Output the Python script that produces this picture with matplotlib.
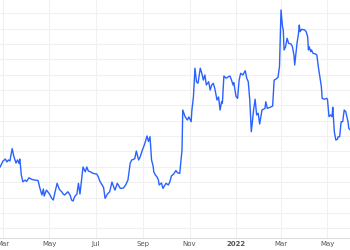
import numpy as np
import matplotlib
matplotlib.use('Agg')
from matplotlib import pyplot as plt
import matplotlib.dates as mdates

# days since 2021-02-25
start = np.datetime64('2021-02-25')
days = [0, 4, 7, 9, 11, 13, 16, 18, 21, 23, 25, 26, 28, 30, 33, 35, 38, 42, 46, 50,
        52, 55, 57, 58, 61, 65, 68, 70, 72, 75, 78,
        81, 83, 85, 89, 92, 94, 96, 98, 101, 103, 105, 107, 109, 112, 114, 116, 119, 122,
        127, 129, 131, 136, 138, 139, 141, 144, 147, 150,
        151, 154, 158, 162, 165, 168, 171, 173, 175, 177, 179, 182, 184, 187, 190, 193,
        195, 197, 199, 201, 202, 204, 206, 208, 209, 212, 214, 218, 221, 223, 225, 228,
        231, 233, 236,
        239, 240, 243, 246, 248, 251, 252, 254, 256, 258, 260, 263, 265, 267, 269, 271,
        274, 276, 278, 280, 282, 285, 287, 289, 291, 292, 294,
        297, 300, 302, 304, 306, 307, 310, 312, 314, 316, 319, 322, 324, 326, 328, 330,
        333, 335, 337, 339, 341, 344, 346, 348, 349, 351, 355, 358, 360, 362, 365,
        367, 369, 371, 372, 373, 375, 377, 379, 382, 384, 386, 387, 390, 392, 393, 394,
        396, 400, 402, 404, 405, 406, 408, 409, 411, 414, 416, 418, 420, 422, 423, 426,
        429, 430, 432, 434, 436, 437, 439, 441, 443, 444, 446, 448, 450, 452, 454, 457,
        458, 460]
values = [39.9, 43.8, 45.1, 43.2, 44.5, 43.8, 51.9, 47.1, 42.5, 44.5, 42.2, 45.1, 34.7,
          30.3, 31.4, 30.5, 32.9, 31.8, 31.4, 31.1,
          26.9, 21.7, 25.6, 21.0, 24.9, 22.3, 19.5, 18.4, 23.0, 29.3, 25.3,
          23.8, 22.3, 21.7, 23.8, 21.7, 18.4, 17.8, 20.6, 22.3, 29.3, 22.3, 30.8, 39.9,
          36.8, 39.9, 37.3, 36.7, 35.8, 35.3, 33.6, 30.8, 26.6, 19.5, 20.4, 22.3, 23.8,
          30.1, 26.0,
          24.9, 29.3, 26.0, 26.2, 28.2, 31.4, 42.5, 44.5, 44.8, 45.4, 50.3, 44.5, 46.4,
          51.0, 54.9, 60.1, 56.5, 59.6, 44.5, 40.6, 36.7, 34.7, 33.6, 31.4, 28.2, 29.5,
          26.0, 29.3, 28.2, 30.1, 34.0, 35.3, 37.6, 36.2, 35.7,
          51.0, 77.0, 72.7, 70.5, 72.5, 69.4, 77.0, 85.5, 104.2, 95.4, 94.4, 104.2, 100.9,
          96.5, 99.8, 93.3, 95.4, 90.0, 93.3, 94.4, 91.1, 83.5, 85.5, 77.0, 82.4, 81.4,
          99.1,
          97.7, 98.7, 99.1, 96.5, 93.3, 94.8, 85.7, 84.6, 96.5, 100.9, 99.8, 102.6, 97.7,
          95.4, 83.5, 62.9, 77.0, 84.0, 73.8, 74.9, 67.9, 77.0, 77.5, 78.1, 82.4, 78.1,
          78.8, 79.6, 96.5, 97.0, 98.2,
          105.2, 142.1, 131.2, 129.1, 116.1, 118.2, 123.7, 120.4, 120.0, 118.2, 112.8,
          106.3, 120.4, 126.9, 132.3, 128.0, 129.5, 129.1, 128.0, 124.7, 116.1, 118.2,
          115.0, 116.1, 113.9, 113.5, 112.8, 105.2, 98.7, 92.2, 84.6, 84.0, 84.6, 84.0,
          72.7, 73.8, 72.7, 78.8, 62.9, 57.5, 57.9, 59.6, 59.6, 69.4, 69.4, 77.0, 75.9,
          69.4, 65.1, 64.0]

tick_dates = ['2021-03-01', '2021-05-01', '2021-07-01', '2021-09-01', '2021-11-01',
              '2022-01-01', '2022-03-01', '2022-05-01']
tick_labels = ['Mar', 'May', 'Jul', 'Sep', 'Nov', '2022', 'Mar', 'May']

dates = start + np.array(days, dtype='timedelta64[D]')

fig = plt.figure(figsize=(3.5, 2.5), dpi=100)
ax = fig.add_axes([0, 12 / 250, 1, 238 / 250])

ax.plot(dates, values, color='#2962ff', linewidth=1.0)

x0 = mdates.date2num(start)
ax.set_xlim(x0, x0 + 459.6)
ax.set_ylim(-6.3, 148.6)

ax.set_yticks(np.arange(0, 150, 10))
ax.set_xticks([mdates.date2num(np.datetime64(d)) for d in tick_dates])
ax.set_xticklabels(tick_labels)
for lab in ax.get_xticklabels():
    if lab.get_text() == '2022':
        lab.set_fontweight('bold')
        lab.set_color('#222222')

ax.grid(True, color='#f0f0f0', linewidth=0.8)
ax.set_axisbelow(True)
ax.tick_params(axis='x', length=0, pad=2.5, labelsize=5, labelcolor='#555555')
ax.tick_params(axis='y', length=0, labelleft=False)
for side in ['top', 'left', 'right']:
    ax.spines[side].set_visible(False)
ax.spines['bottom'].set_color('#dddddd')
ax.spines['bottom'].set_linewidth(0.8)

fig.savefig('out.png', dpi=100)
